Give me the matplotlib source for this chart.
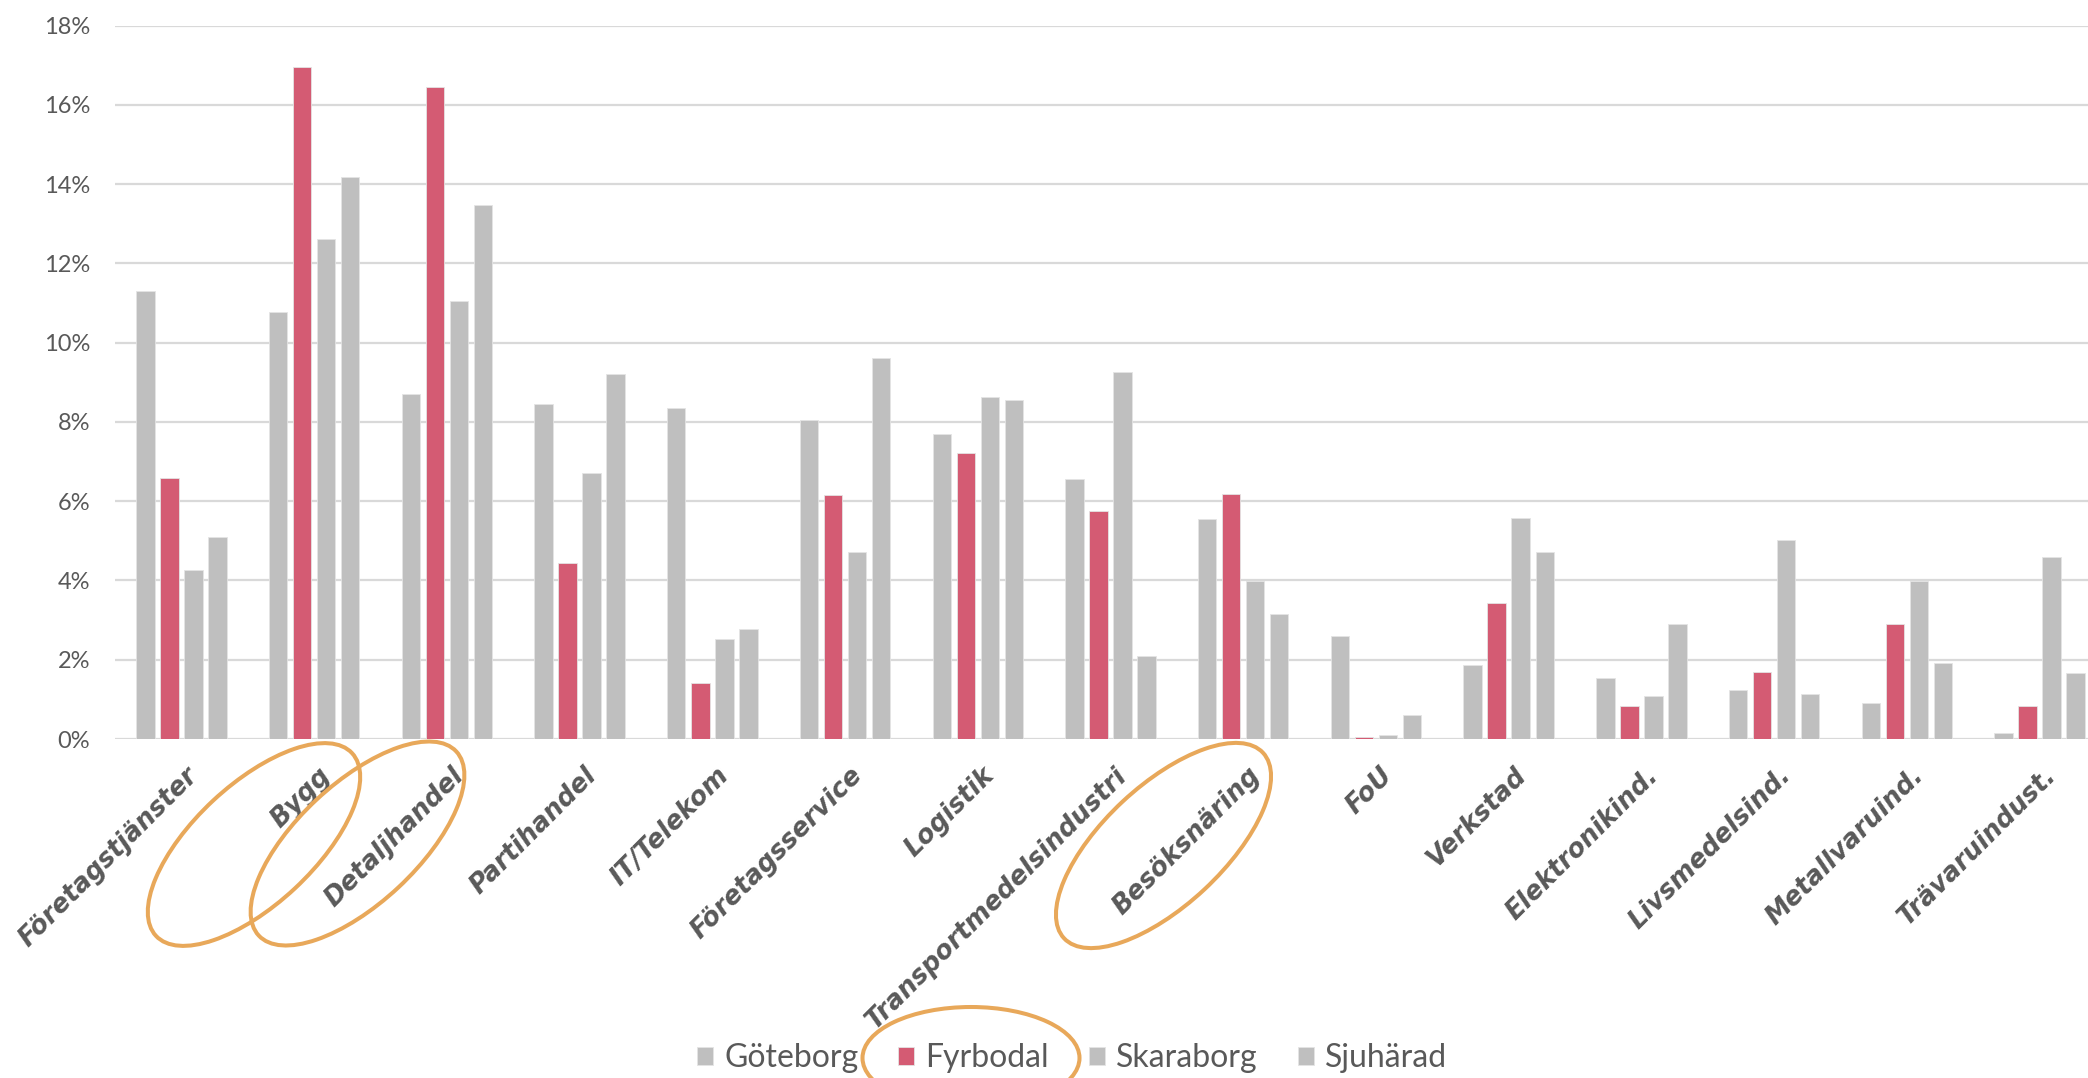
import matplotlib
matplotlib.use("Agg")
import matplotlib.pyplot as plt
import numpy as np
from matplotlib.patches import Ellipse
from matplotlib.transforms import IdentityTransform, ScaledTranslation
from matplotlib.ticker import FuncFormatter

categories = ["Företagstjänster", "Bygg", "Detaljhandel", "Partihandel", "IT/Telekom",
              "Företagsservice", "Logistik", "Transportmedelsindustri", "Besöksnäring",
              "FoU", "Verkstad", "Elektronikind.", "Livsmedelsind.", "Metallvaruind.",
              "Trävaruindust."]
series_names = ["Göteborg", "Fyrbodal", "Skaraborg", "Sjuhärad"]
goteborg = [11.29, 10.78, 8.71, 8.45, 8.35, 8.05, 7.70, 6.56, 5.56, 2.61, 1.87, 1.54, 1.24, 0.90, 0.14]
fyrbodal = [6.58, 16.96, 16.45, 4.44, 1.42, 6.15, 7.21, 5.76, 6.18, 0.05, 3.43, 0.82, 1.69, 2.90, 0.83]
skaraborg = [4.26, 12.61, 11.06, 6.71, 2.52, 4.73, 8.62, 9.27, 3.98, 0.10, 5.58, 1.09, 5.03, 3.98, 4.60]
sjuharad = [5.10, 14.19, 13.46, 9.20, 2.77, 9.61, 8.55, 2.10, 3.15, 0.61, 4.71, 2.90, 1.13, 1.91, 1.67]
y_ticks = [0, 2, 4, 6, 8, 10, 12, 14, 16, 18]

GREY = "#BFBFBF"
PINK = "#D45B73"
ORANGE = "#E8A85A"
TXT = "#595959"
colors = [GREY, PINK, GREY, GREY]

W, H = 2088, 1078
fig = plt.figure(figsize=(W / 100, H / 100), dpi=100)
ax = fig.add_axes([115 / W, 1 - 739 / H, (2106 - 115) / W, (739 - 25.5) / H])

x = np.arange(len(categories))
pitch = 0.181
bw = 0.139
data = [goteborg, fyrbodal, skaraborg, sjuharad]
handles = []
for i, (vals, c, name) in enumerate(zip(data, colors, series_names)):
    b = ax.bar(x + (i - 1.5) * pitch, vals, width=bw, color=c, label=name,
               edgecolor="#E4E4E4", linewidth=0.6, zorder=3)
    handles.append(b)

ax.set_xlim(-0.5, len(categories) - 0.5)
ax.set_ylim(0, 18)
ax.set_yticks(y_ticks)
ax.yaxis.set_major_formatter(FuncFormatter(lambda v, p: f"{int(v)}%"))
ax.grid(axis="y", color="#D9D9D9", linewidth=1.6, zorder=0)
ax.set_axisbelow(True)
for s in ax.spines.values():
    s.set_visible(False)
ax.tick_params(axis="y", length=0, pad=18, labelsize=17, labelcolor=TXT)
for lab in ax.get_yticklabels():
    lab.set_fontfamily("Lato")

ax.set_xticks(x)
ax.set_xticklabels(categories)
ax.tick_params(axis="x", length=0, pad=17)
offset = ScaledTranslation(4 / 100, 0, fig.dpi_scale_trans)
for lab in ax.get_xticklabels():
    lab.set_rotation(45)
    lab.set_rotation_mode("anchor")
    lab.set_ha("right")
    lab.set_va("top")
    lab.set_fontfamily("DejaVu Sans")
    lab.set_fontweight("bold")
    lab.set_fontstyle("oblique")
    lab.set_fontsize(18.5)
    lab.set_color(TXT)
    lab.set_transform(lab.get_transform() + offset)

leg = fig.legend(handles=handles, labels=series_names, loc="center",
                 bbox_to_anchor=(1072 / W, 1 - 1058 / H), ncol=4, frameon=False,
                 handlelength=0.5, handleheight=0.5, handletextpad=0.35,
                 columnspacing=1.25, prop={"family": "Lato", "size": 23})
for t in leg.get_texts():
    t.set_color(TXT)

# orange highlight ellipses (annotation, in pixel coordinates)
ell_specs = [
    (254, 844.5, 268, 120, 43),
    (357.5, 843.5, 270, 120, 43),
    (1163.5, 845.5, 272, 120, 43),
    (971, 1058, 217, 102, 0),
]
for cx, cy, ew, eh, ang in ell_specs:
    e = Ellipse((cx, H - cy), ew, eh, angle=ang, fill=False, edgecolor=ORANGE,
                linewidth=2.9, transform=IdentityTransform(), clip_on=False)
    fig.add_artist(e)

fig.savefig("out.png", dpi=100, facecolor="white")
